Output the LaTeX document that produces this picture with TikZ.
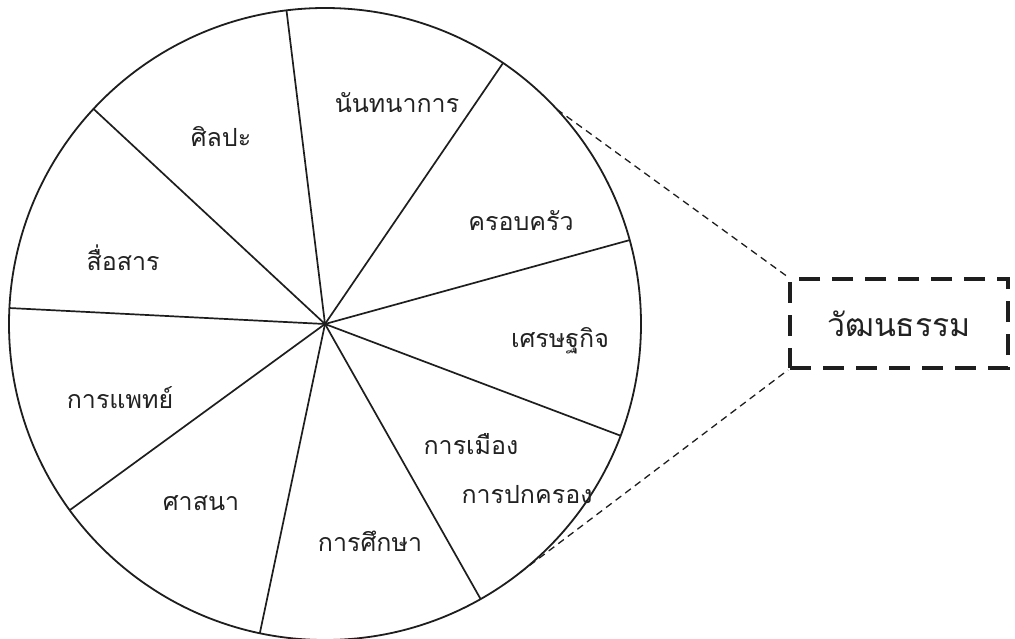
\documentclass[tikz,border=0pt]{standalone}
\usepackage{fontspec}
\newfontfamily\thaifont[Script=Thai]{Loma}
\usetikzlibrary{calc}
\definecolor{ink}{HTML}{1E1E1E}
\definecolor{txt}{HTML}{222222}
\tikzset{
  wheel/.style={draw=ink, line width=1.8pt},
  spoke/.style={draw=ink, line width=1.7pt},
  lab/.style={font=\thaifont\fontsize{25}{29}\selectfont, text=txt, inner sep=0pt},
  bigbox/.style={draw=ink, line width=3.8pt, dash pattern=on 21pt off 12pt,
     minimum width=218pt, minimum height=89pt, inner sep=0pt,
     font=\thaifont\fontsize{32}{36}\selectfont, text=txt},
  zoomline/.style={draw=ink, line width=1.3pt, dash pattern=on 7pt off 5pt}
}
\begin{document}
\begin{tikzpicture}[x=1pt,y=-1pt]
\useasboundingbox (0,0) rectangle (1015,638);
\fill[white] (0,0) rectangle (1015,638);
\coordinate (c) at (325,324);
\draw[wheel] (c) circle[radius=316];
\foreach \a [count=\i] in {-97,-55.7,-15.4,20.7,60.5,101.9,143.9,182.9,222.9}{
  \coordinate (s\i) at ($(c)+(\a:316)$);
  \draw[spoke] (c) -- (s\i);
}
\node[lab] (nantha) at (397,103) {นันทนาการ};
\node[lab] (silpa) at (221,137) {ศิลปะ};
\node[lab] (khrob) at (521,221) {ครอบครัว};
\node[lab] (suesan) at (123,258) {สื่อสาร};
\node[lab] (setth) at (560,341) {เศรษฐกิจ};
\node[lab] (phaet) at (120,398) {การแพทย์};
\node[lab] (mueang) at (471,444) {การเมือง};
\node[lab] (pokk) at (527,495) {การปกครอง};
\node[lab] (sasana) at (201,503) {ศาสนา};
\node[lab] (suksa) at (370,541) {การศึกษา};
\node[bigbox] (box) at (899,323.5) {วัฒนธรรม};
\coordinate (p1) at ($(c)+(-42.8:316)$);
\coordinate (p2) at ($(c)+(51.9:316)$);
\draw[zoomline] (p1) -- (box.north west);
\draw[zoomline] (p2) -- (box.south west);
\end{tikzpicture}
\end{document}
